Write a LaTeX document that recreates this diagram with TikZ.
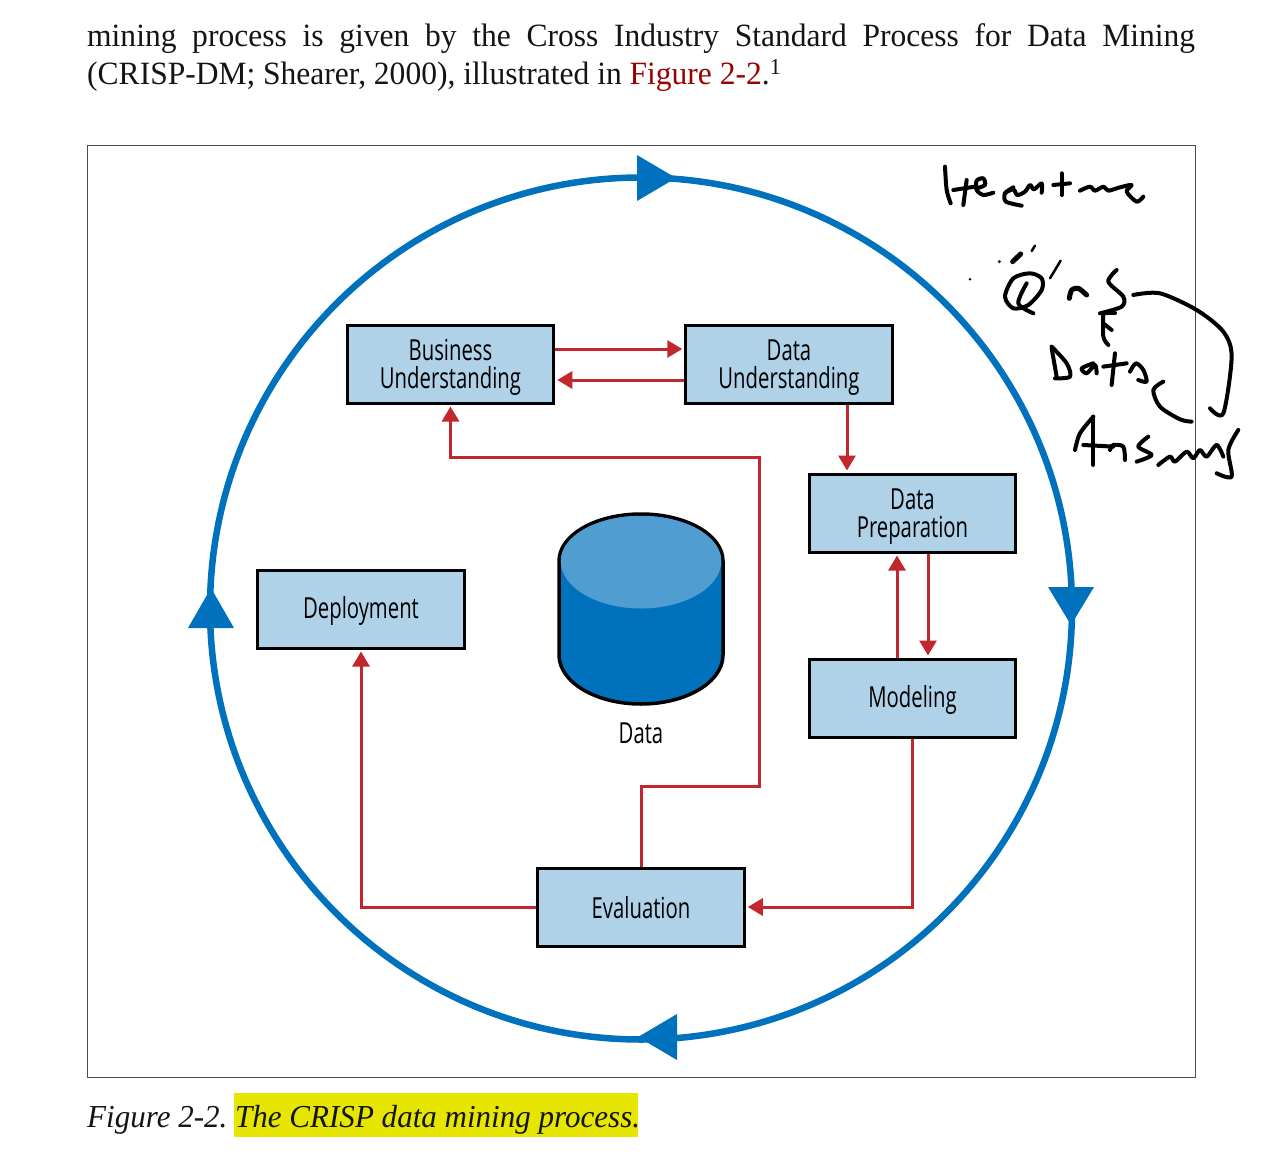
\documentclass[tikz,border=0pt]{standalone}
\usepackage{fontspec}
\usepackage{tikz}
\usetikzlibrary{arrows.meta}
\setmainfont[FakeStretch=0.97]{Liberation Serif}
\newfontfamily\boxfont[FakeStretch=0.70]{Open Sans}
\definecolor{ringblue}{HTML}{0071BC}
\definecolor{lightblue}{HTML}{4F9DD1}
\definecolor{boxblue}{HTML}{AFD2E9}
\definecolor{flowred}{HTML}{C1272D}
\definecolor{linkred}{HTML}{990000}
\definecolor{marker}{HTML}{E6E600}
\tikzset{
  stage/.style={draw=black,fill=boxblue,line width=3pt,minimum width=206.5pt,minimum height=78pt,
    align=center,inner sep=0pt,text depth=0pt,font=\boxfont\fontsize{29}{28}\selectfont},
  plain/.style={inner sep=0pt,font=\boxfont\fontsize{29}{28}\selectfont},
  flow/.style={draw=flowred,line width=3pt,-{Triangle[length=15pt,width=17pt]},shorten >=2pt},
  para/.style={anchor=base west,inner sep=0pt,font=\fontsize{32.5}{38}\selectfont,text=black!92},
  ink/.style={draw=black,line width=4pt,line cap=round,line join=round}
}
\begin{document}
\begin{tikzpicture}[x=1pt,y=-1pt]
\useasboundingbox (0,0) rectangle (1270,1168);
% page text
\node[para] (line1) at (87,46) {\makebox[1108pt][s]{mining process is given by the Cross Industry Standard Process for Data Mining}};
\node[para] (line2) at (87,84) {(CRISP-DM; Shearer, 2000), illustrated in \textcolor{linkred}{Figure 2-2}.\textsuperscript{1}};
\draw[black!70,line width=1pt] (87,145.5) rectangle (1195,1077);
\fill[marker] (234,1093) rectangle (638,1137);
\node[para,font=\itshape\fontsize{32}{38}\selectfont] (cap1) at (87,1127) {Figure 2-2.};
\node[para,font=\itshape\fontsize{32}{38}\selectfont] (cap2) at (235,1127) {The CRISP data mining process.};
% the ring
\draw[ringblue,line width=6.5pt] (641,608.5) circle (431);
\fill[ringblue] (676,178) -- (637,155) -- (637,201) -- cycle;
\fill[ringblue] (1071,625) -- (1048,587) -- (1094,587) -- cycle;
\fill[ringblue] (638,1037) -- (677,1014) -- (677,1060) -- cycle;
\fill[ringblue] (211,588) -- (188,628) -- (234,628) -- cycle;
% the stages
\node[stage] (business) at (450.5,364) {Business\\Understanding};
\node[stage] (dataund) at (789,364) {Data\\Understanding};
\node[stage] (dataprep) at (912.5,513) {Data\\Preparation};
\node[stage,text depth=3pt] (modeling) at (912.5,698) {Modeling};
\node[stage] (evaluation) at (641,907) {Evaluation};
\node[stage,text depth=3pt] (deployment) at (361,609) {Deployment};
% the store
\draw[fill=ringblue,draw=black,line width=3.5pt] (559,561) -- (559,655) arc[start angle=180,end angle=0,x radius=82,y radius=49] -- (723,561) arc[start angle=0,end angle=-180,x radius=82,y radius=47] -- cycle;
\fill[lightblue] (560.7,561) arc[start angle=180,end angle=0,x radius=80.3,y radius=47.5] arc[start angle=0,end angle=-180,x radius=80.3,y radius=45.2] -- cycle;
\node[plain] (store) at (641,733) {Data};
% the flows
\draw[flow] ([yshift=15pt]business.east) -- ([yshift=15pt]dataund.west);
\draw[flow] ([yshift=-16pt]dataund.west) -- ([yshift=-16pt]business.east);
\draw[flow] ([xshift=58pt]dataund.south) -- ([xshift=-65.5pt]dataprep.north);
\draw[flow] ([xshift=-15.5pt]modeling.north) -- ([xshift=-15.5pt]dataprep.south);
\draw[flow] ([xshift=15.5pt]dataprep.south) -- ([xshift=15.5pt]modeling.north);
\draw[flow] (modeling.south) |- (evaluation.east);
\draw[flow] (evaluation.west) -| (deployment.south);
\draw[flow] (evaluation.north) -- (641,786) -- (759,786) -- (759,457) -- (450.5,457) -- (business.south);
% handwriting
\begin{scope}[shift={(930,150)},x=0.3333pt,y=-0.3333pt]
\draw[ink] plot[smooth] coordinates {(45,50) (50,120) (62,160)};
\draw[ink] (110,90) -- (100,165);
\draw[ink] (70,120) -- (135,110);
\draw[ink] plot[smooth] coordinates {(140,115) (165,105) (160,85) (140,92) (140,120) (160,135) (190,128)};
\draw[ink] plot[smooth] coordinates {(250,112) (225,130) (228,155) (275,167)};
\draw[ink] plot[smooth] coordinates {(226,128) (250,118) (262,135) (285,125) (300,105) (312,118) (335,100) (335,128)};
\draw[ink] (395,70) -- (395,135);
\draw[ink] (370,105) -- (420,100);
\draw[ink] plot[smooth] coordinates {(450,122) (480,110) (495,122) (520,110) (535,122) (570,112) (605,105) (590,125) (620,155) (640,140)};
% Q's
\draw[ink] plot[smooth cycle] coordinates {(300,370) (250,385) (225,440) (250,475) (295,465) (335,420) (335,385)};
\draw[ink] plot[smooth] coordinates {(290,400) (265,460) (310,490)};
\fill (208,335) circle (5) (120,388) circle (4);
\draw[ink,line width=5pt] (248,335) -- (272,312);
\draw[ink,line width=2.5pt] (305,303) -- (315,287);
\draw[ink,line width=2.5pt] (360,385) -- (392,332);
\draw[ink,line width=5pt] plot[smooth] coordinates {(418,445) (425,420) (445,415) (470,435)};
\draw[ink] plot[smooth] coordinates {(560,360) (535,395) (580,440) (575,470) (510,490)};
\draw[ink] (515,490) -- (555,490);
\draw[ink] (520,520) -- (545,540);
\draw[ink] plot[smooth] coordinates {(520,490) (520,560) (535,585)};
\draw[ink] plot[smooth] coordinates {(610,435) (690,430) (800,480) (880,545) (905,620) (880,790) (840,775)};
\draw[ink] plot[smooth] coordinates {(700,695) (670,720) (690,770) (750,808) (785,815)};
% Data
\draw[ink] (365,595) -- (380,680);
\draw[ink] plot[smooth] coordinates {(365,590) (410,640) (420,680) (375,685)};
\draw[ink] plot[smooth] coordinates {(490,640) (455,655) (470,670) (495,645) (500,670)};
\draw[ink] (555,610) -- (545,705);
\draw[ink] (520,650) -- (590,640);
\draw[ink] plot[smooth] coordinates {(600,665) (618,640) (640,660) (650,695) (625,690)};
% Answers
\draw[ink] plot[smooth] coordinates {(490,800) (450,850) (435,900)};
\draw[ink] (490,800) -- (490,945);
\draw[ink] (460,885) -- (550,890);
\draw[ink] plot[smooth] coordinates {(540,900) (550,885) (580,890) (585,930)};
\draw[ink] plot[smooth] coordinates {(655,860) (625,890) (665,915) (620,935)};
\draw[ink] plot[smooth] coordinates {(685,945) (720,920) (735,935) (770,905) (790,925) (810,900) (830,920) (860,885) (880,920)};
\draw[ink] plot[smooth] coordinates {(925,840) (895,900) (905,980) (860,970)};
\end{scope}
\end{tikzpicture}
\end{document}
